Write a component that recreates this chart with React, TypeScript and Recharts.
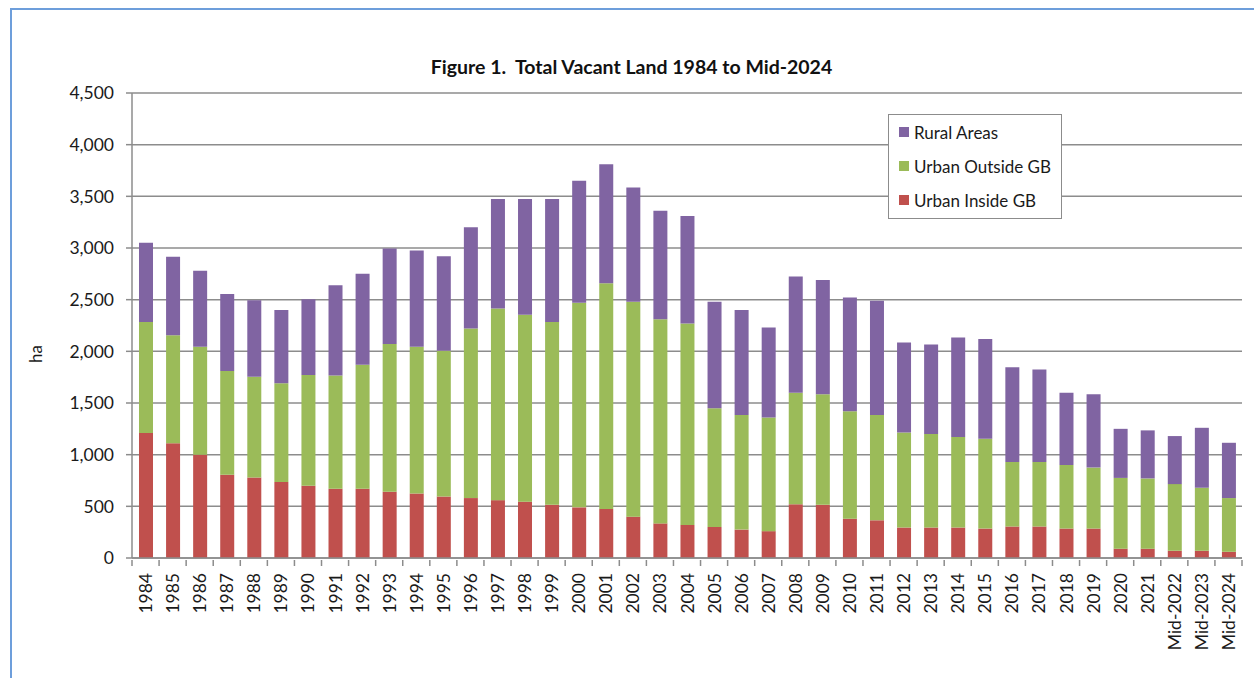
import React from 'react';
import { BarChart, Bar, XAxis, YAxis, CartesianGrid } from 'recharts';

const years = [
  '1984', '1985', '1986', '1987', '1988', '1989', '1990', '1991', '1992', '1993',
  '1994', '1995', '1996', '1997', '1998', '1999', '2000', '2001', '2002', '2003',
  '2004', '2005', '2006', '2007', '2008', '2009', '2010', '2011', '2012', '2013',
  '2014', '2015', '2016', '2017', '2018', '2019', '2020', '2021', 'Mid-2022', 'Mid-2023',
  'Mid-2024',
];

// hectares
const urbanInside = [
  1210, 1110, 1000, 805, 780, 735, 700, 670, 670, 640,
  625, 595, 580, 560, 545, 515, 490, 475, 400, 335,
  320, 300, 275, 260, 520, 515, 380, 365, 295, 295,
  295, 285, 305, 305, 285, 285, 90, 90, 70, 70,
  60,
];
const urbanOutside = [
  1075, 1045, 1045, 1005, 975, 955, 1070, 1095, 1200, 1430,
  1420, 1410, 1640, 1855, 1810, 1770, 1980, 2185, 2080, 1975,
  1950, 1150, 1110, 1100, 1080, 1070, 1040, 1020, 920, 905,
  875, 870, 625, 625, 615, 590, 685, 680, 645, 610,
  520,
];
const ruralAreas = [
  765, 760, 735, 745, 740, 710, 735, 875, 880, 925,
  930, 915, 980, 1060, 1120, 1190, 1180, 1150, 1105, 1050,
  1040, 1030, 1015, 870, 1125, 1105, 1100, 1105, 870, 865,
  965, 965, 915, 895, 700, 710, 475, 465, 465, 580,
  535,
];
const yTicks = [0, 500, 1000, 1500, 2000, 2500, 3000, 3500, 4000, 4500];

const data = years.map((year, i) => ({
  year,
  inside: urbanInside[i],
  outside: urbanOutside[i],
  rural: ruralAreas[i],
}));

const RED = '#C0504D';
const GREEN = '#9BBB59';
const PURPLE = '#8064A2';
const GRID = '#8c8c8c';
const FONT = 'Lato, "Open Sans", sans-serif';
const TEXT = '#1a1a1a';

const W = 1254;
const H = 678;
const PLOT_LEFT = 132;
const PLOT_RIGHT = 1242;
const BAND = (PLOT_RIGHT - PLOT_LEFT) / years.length;

const YearTick = (props: any) => {
  const { x, y, payload, index } = props;
  const half = BAND / 2;
  return (
    <g>
      <line x1={x - half} y1={y} x2={x - half} y2={y + 6} stroke={GRID} strokeWidth={1.5} />
      {index === years.length - 1 && (
        <line x1={x + half} y1={y} x2={x + half} y2={y + 6} stroke={GRID} strokeWidth={1.5} />
      )}
      <text
        x={x}
        y={y + 13}
        transform={`rotate(-90, ${x}, ${y + 13})`}
        textAnchor="end"
        dominantBaseline="central"
        fontSize={17.5}
        fontFamily={FONT}
        fill={TEXT}
      >
        {payload.value}
      </text>
    </g>
  );
};

const AxisTitle = () => (
  <text
    x={35}
    y={354}
    transform="rotate(-90, 35, 354)"
    textAnchor="middle"
    dominantBaseline="central"
    fontSize={17}
    fontFamily={FONT}
    fill={TEXT}
  >
    ha
  </text>
);

const legendItems = [
  { name: 'Rural Areas', color: PURPLE },
  { name: 'Urban Outside GB', color: GREEN },
  { name: 'Urban Inside GB', color: RED },
];

const LegendBox = () => (
  <div
    style={{
      position: 'absolute',
      left: 888,
      top: 114,
      width: 174,
      height: 105,
      border: '1.5px solid #8c8c8c',
      background: '#fff',
      boxSizing: 'border-box',
      paddingTop: 0,
      paddingLeft: 10,
      fontFamily: FONT,
      fontSize: 17,
      color: TEXT,
    }}
  >
    {legendItems.map((item) => (
      <div key={item.name} style={{ display: 'flex', alignItems: 'center', height: 34 }}>
        <span style={{ width: 10, height: 10, background: item.color, marginRight: 5, flexShrink: 0 }} />
        <span style={{ whiteSpace: 'nowrap' }}>{item.name}</span>
      </div>
    ))}
  </div>
);

export default function App() {
  return (
    <div
      style={{
        position: 'absolute',
        left: 0,
        top: 0,
        width: W,
        height: H,
        overflow: 'hidden',
        background: '#fff',
      }}
    >
      <div
        style={{
          position: 'absolute',
          left: 10,
          top: 8,
          width: 1400,
          height: 900,
          borderLeft: '2px solid #6d9edb',
          borderTop: '2px solid #6d9edb',
        }}
      />
      <div
        style={{
          position: 'absolute',
          left: 0,
          top: 55,
          width: 1263,
          textAlign: 'center',
          fontFamily: FONT,
          fontWeight: 700,
          fontSize: 19.5,
          color: '#111',
        }}
      >
        Figure 1.&nbsp; Total Vacant Land 1984 to Mid-2024
      </div>
      <div style={{ position: 'absolute', left: 0, top: 0 }}>
        <BarChart
          width={W}
          height={H}
          data={data}
          margin={{ top: 93, right: W - PLOT_RIGHT, bottom: 0, left: 0 }}
        >
          <CartesianGrid vertical={false} stroke={GRID} strokeWidth={1.5} />
          <XAxis
            dataKey="year"
            interval={0}
            height={120}
            tickSize={0}
            tickLine={false}
            axisLine={{ stroke: GRID, strokeWidth: 1.5 }}
            tick={YearTick}
          />
          <YAxis
            width={PLOT_LEFT}
            domain={[0, 4500]}
            ticks={yTicks}
            tickSize={6}
            tickMargin={12}
            tickLine={{ stroke: GRID, strokeWidth: 1.5 }}
            axisLine={{ stroke: GRID, strokeWidth: 1.5 }}
            tickFormatter={(v: number) => v.toLocaleString('en-US')}
            tick={{ fontSize: 17.5, fontFamily: FONT, fill: TEXT }}
            label={{ content: <AxisTitle /> }}
          />
          <Bar dataKey="inside" stackId="a" fill={RED} barSize={14} isAnimationActive={false} />
          <Bar dataKey="outside" stackId="a" fill={GREEN} barSize={14} isAnimationActive={false} />
          <Bar dataKey="rural" stackId="a" fill={PURPLE} barSize={14} isAnimationActive={false} />
        </BarChart>
      </div>
      <LegendBox />
    </div>
  );
}
